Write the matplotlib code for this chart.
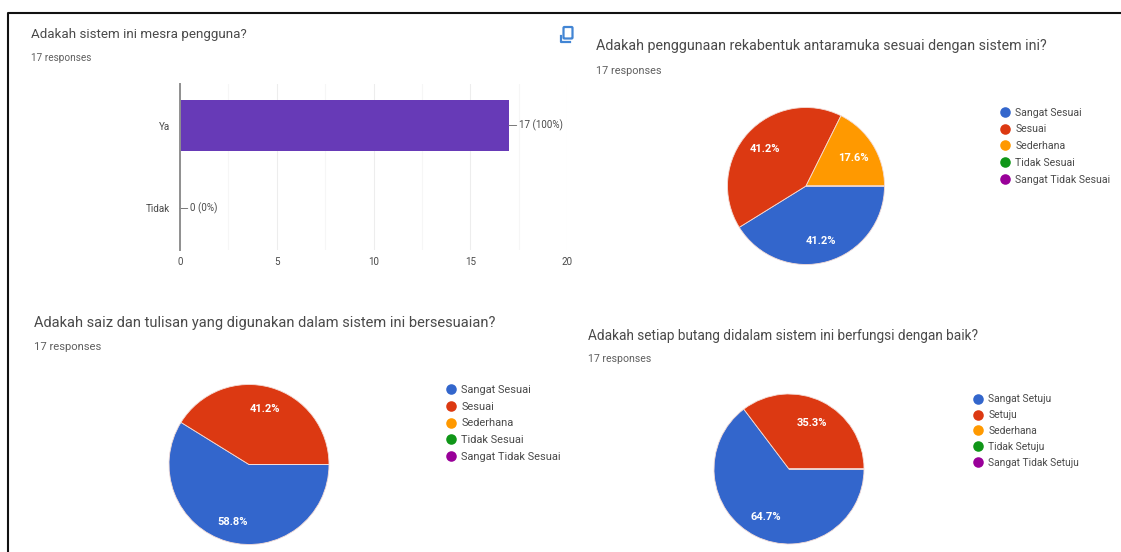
import matplotlib
matplotlib.use("Agg")
import matplotlib.pyplot as plt
from matplotlib.lines import Line2D
from matplotlib.patches import FancyBboxPatch

W, H = 1121, 552
plt.rcParams['font.family'] = ['Roboto', 'DejaVu Sans']

RESPONSES = "17 responses"
bar_title = "Adakah sistem ini mesra pengguna?"
bar_categories = ["Ya", "Tidak"]
bar_values = [17, 0]
bar_labels = ["17 (100%)", "0 (0%)"]

pie1_title = "Adakah penggunaan rekabentuk antaramuka sesuai dengan sistem ini?"
pie1_labels = ["Sangat Sesuai", "Sesuai", "Sederhana", "Tidak Sesuai", "Sangat Tidak Sesuai"]
pie1_values = [7, 7, 3, 0, 0]

pie2_title = "Adakah saiz dan tulisan yang digunakan dalam sistem ini bersesuaian?"
pie2_labels = ["Sangat Sesuai", "Sesuai", "Sederhana", "Tidak Sesuai", "Sangat Tidak Sesuai"]
pie2_values = [10, 7, 0, 0, 0]

pie3_title = "Adakah setiap butang didalam sistem ini berfungsi dengan baik?"
pie3_labels = ["Sangat Setuju", "Setuju", "Sederhana", "Tidak Setuju", "Sangat Tidak Setuju"]
pie3_values = [11, 6, 0, 0, 0]

colors = ["#3366cc", "#dc3912", "#ff9900", "#109618", "#990099"]
BAR_COLOR = "#673ab7"
TITLE_C, SUB_C, AX_C = "#4a4a4a", "#5f5f5f", "#4a4a4a"

fig = plt.figure(figsize=(W / 100, H / 100), dpi=100, facecolor="white")


def rect(left, top, right, bottom):
    return [left / W, 1 - bottom / H, (right - left) / W, (bottom - top) / H]


# Pixel overlay for the frame, headings and the copy icon
ov = fig.add_axes([0, 0, 1, 1], zorder=5)
ov.set_xlim(0, W)
ov.set_ylim(H, 0)
ov.axis("off")
ov.patch.set_alpha(0)
ov.add_line(Line2D([7.5, 7.5, W], [H, 12.5, 12.5], color="#111111", lw=1.5))


def heading(x, y_title, y_sub, title, fs_title, fs_sub):
    ov.text(x, y_title, title, fontsize=fs_title, color=TITLE_C, va="center", ha="left")
    ov.text(x, y_sub, RESPONSES, fontsize=fs_sub, color=SUB_C, va="center", ha="left")


heading(31, 34.5, 58, bar_title, 9.6, 7.2)
heading(596, 46, 70.5, pie1_title, 10.3, 7.8)
heading(34, 323, 347, pie2_title, 10.5, 8.1)
heading(588, 336, 359, pie3_title, 9.85, 7.6)

# Copy icon
ov.add_patch(FancyBboxPatch((563.5, 27), 9, 11.5, boxstyle="round,pad=0,rounding_size=1",
                            fc="none", ec="#4285d4", lw=1.6))
ov.add_line(Line2D([560.8, 560.8, 570], [36, 41.8, 41.8], color="#4285d4", lw=1.6))

# Bar chart
ax = fig.add_axes(rect(180, 84, 567, 250))
pos = list(range(len(bar_values)))
ax.barh(pos, bar_values, height=0.62, color=BAR_COLOR, zorder=3)
ax.set_xlim(0, 20)
ax.set_ylim(1.5, -0.5)
ax.set_yticks(pos, bar_categories)
ax.set_xticks([0, 5, 10, 15, 20])
ax.set_xticks([2.5, 7.5, 12.5, 17.5], minor=True)
ax.tick_params(axis="both", which="both", length=0, labelsize=7.1, labelcolor=AX_C)
ax.tick_params(axis="y", pad=7)
ax.tick_params(axis="x", pad=5)
ax.grid(axis="x", which="major", color="#ededed", lw=0.8, zorder=0)
ax.grid(axis="x", which="minor", color="#f6f6f6", lw=0.8, zorder=0)
for name, spine in ax.spines.items():
    spine.set_visible(name == "left")
ax.spines["left"].set_color("#8f8f8f")
ax.spines["left"].set_linewidth(1.4)
ax.spines["left"].set_zorder(4)
for p, v, lab in zip(pos, bar_values, bar_labels):
    ax.annotate(lab, xy=(v, p), xytext=(10.5, 0), textcoords="offset pixels",
                fontsize=7.1, color=AX_C, va="center", ha="left",
                arrowprops=dict(arrowstyle="-", color="#777777", lw=0.7,
                                shrinkA=0, shrinkB=0))


def pct(p):
    return f"{p:.1f}%" if p > 0 else ""


def draw_pie(cx, cy, r, values, labels, lx, ly, fs, spacing, pd):
    a = fig.add_axes(rect(cx - r, cy - r, cx + r, cy + r))
    wedges, _, autos = a.pie(values, colors=colors, startangle=0, counterclock=False,
                             radius=1, autopct=pct, pctdistance=pd,
                             wedgeprops=dict(edgecolor="#f4dcd6", linewidth=0.6),
                             textprops=dict(color="white", fontsize=8.0, fontweight="bold"))
    for t in autos:
        t.set_va("center_baseline")
    a.set_xlim(-1, 1)
    a.set_ylim(-1, 1)
    handles = [Line2D([], [], ls="none", marker="o", ms=7.6, mfc=c, mec=c, mew=0) for c in colors]
    # a wedge's legend entry would have no size for empty answers, so use round markers
    fig.legend(handles, labels, loc="upper left", bbox_to_anchor=(lx / W, 1 - ly / H),
               frameon=False, fontsize=fs, labelcolor=AX_C, borderpad=0, borderaxespad=0,
               handlelength=7.6 / fs, handletextpad=3.4 / fs, labelspacing=spacing)


draw_pie(806, 186, 78.5, pie1_values, pie1_labels, 1000, 107.5, 7.6, 0.64, 0.71)
draw_pie(249, 464.5, 80, pie2_values, pie2_labels, 446, 385, 7.9, 0.61, 0.73)
draw_pie(789, 469, 75, pie3_values, pie3_labels, 973, 394.5, 7.4, 0.56, 0.7)

fig.savefig("out.png", dpi=100)
